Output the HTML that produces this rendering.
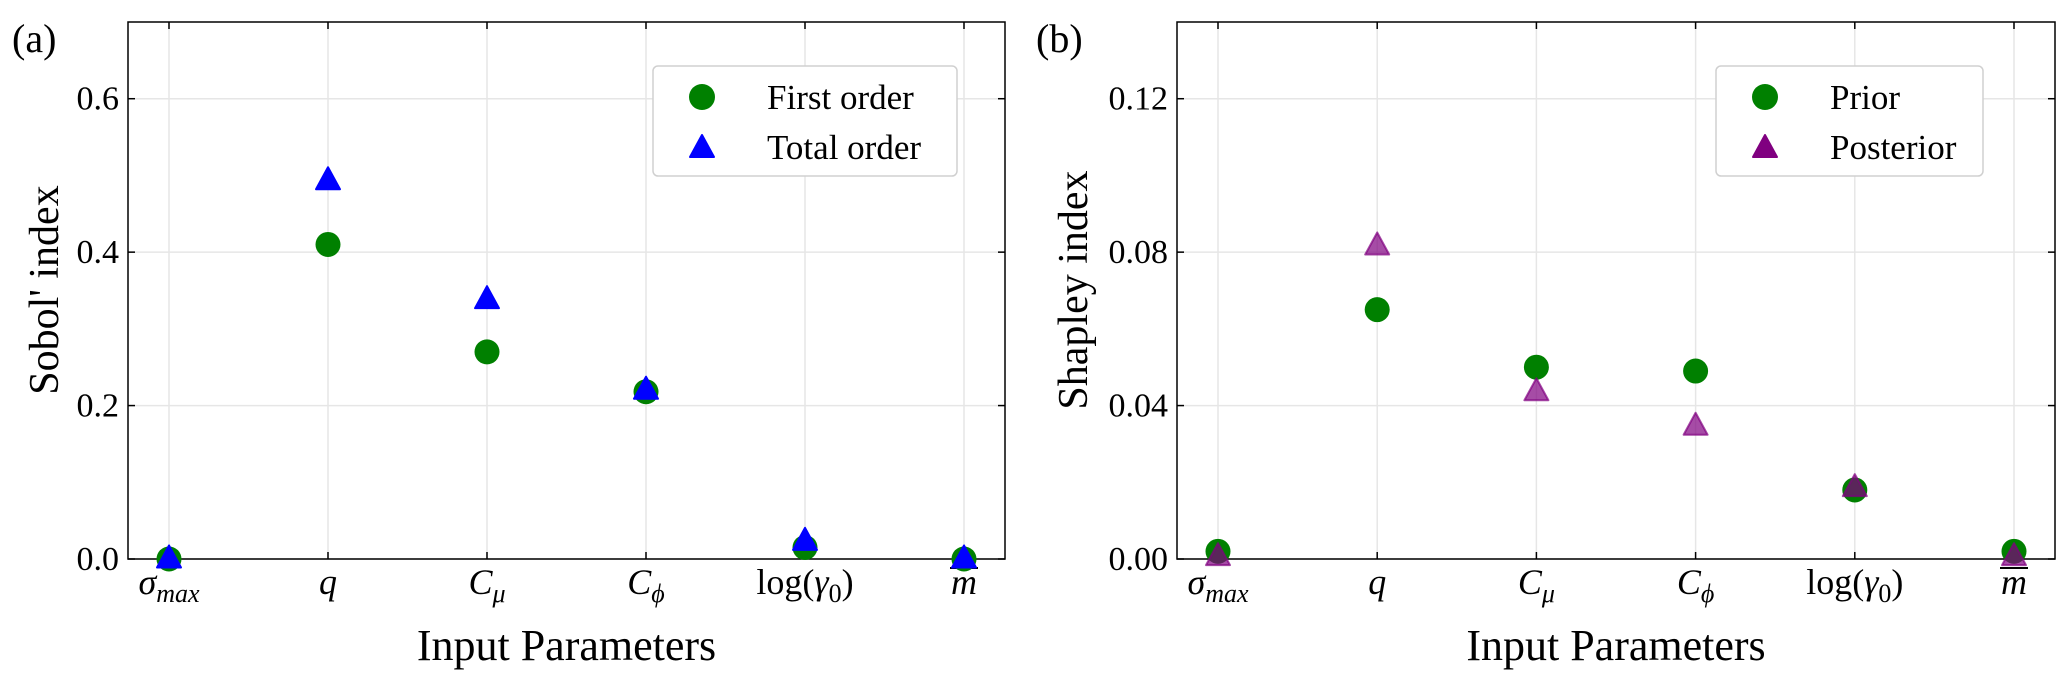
<!DOCTYPE html>
<html><head><meta charset="utf-8"><style>
body{margin:0;background:#fff}
svg text{font-family:"Liberation Serif",serif;fill:#000}
</style></head><body>
<svg id="fig" width="2067" height="685" viewBox="0 0 2067 685" xmlns="http://www.w3.org/2000/svg"></svg>
<script>
const categories=["σ","q","C","C","log(γ)","m"];
const firstOrder=[0,0.41,0.27,0.218,0.015,0];
const totalOrder=[0.002,0.495,0.34,0.222,0.025,0.002];
const prior=[0.002,0.065,0.05,0.049,0.018,0.002];
const posterior=[0.001,0.082,0.044,0.035,0.019,0.001];
const ticksA=[0,0.2,0.4,0.6];
const tickLabelsA=["0.0","0.2","0.4","0.6"];
const ticksB=[0,0.04,0.08,0.12];
const tickLabelsB=["0.00","0.04","0.08","0.12"];
const NS="http://www.w3.org/2000/svg";
const svg=document.getElementById('fig');
function mk(tag,at,parent){const e=document.createElementNS(NS,tag);for(const k in at)e.setAttribute(k,at[k]);(parent||svg).appendChild(e);return e;}
function catLabel(g,x,y,i){
  const t=mk('text',{x:x,y:y,'text-anchor':'middle','font-size':36},g);
  
  
  if(i===0){t.innerHTML='<tspan font-style="italic">σ</tspan><tspan font-style="italic" font-size="26" dy="8">max</tspan>';}
  else if(i===1){t.innerHTML='<tspan font-style="italic">q</tspan>';}
  else if(i===2){t.innerHTML='<tspan font-style="italic">C</tspan><tspan font-style="italic" font-size="26" dy="8">μ</tspan>';}
  else if(i===3){t.innerHTML='<tspan font-style="italic">C</tspan><tspan font-style="italic" font-size="26" dy="8">ϕ</tspan>';}
  else if(i===4){t.innerHTML='log(<tspan font-style="italic">γ</tspan><tspan font-size="26" dy="8">0</tspan><tspan dy="-8">)</tspan>';}
  else {t.innerHTML='<tspan font-style="italic">m</tspan>';mk('line',{x1:x-14,x2:x+14,y1:y-26,y2:y-26,stroke:'#000','stroke-width':2},g);}
}
function panel(o){
  const g=mk('g',{});
  
  
  const L=o.left,R=o.right,T=22,B=559;
  const xs=i=>L+41+i*((R-L-82)/5);
  const ys=v=>B-(v/o.ymax)*(B-T);
  o.ticks.forEach((v,i)=>{
    const y=ys(v);
    const gl=mk('line',{x1:L,x2:R,y1:y,y2:y,stroke:'#e6e6e6','stroke-width':1.5},g);
    
    mk('line',{x1:L,x2:L+7,y1:y,y2:y,stroke:'#000','stroke-width':1.5},g);
    mk('line',{x1:R-7,x2:R,y1:y,y2:y,stroke:'#000','stroke-width':1.5},g);
    const t=mk('text',{x:L-9,y:y+11,'text-anchor':'end','font-size':34},g);
    t.textContent=o.tickLabels[i];
    
  });
  categories.forEach((c,i)=>{
    const x=xs(i);
    const gl=mk('line',{x1:x,x2:x,y1:T,y2:B,stroke:'#e6e6e6','stroke-width':1.5},g);
    
    mk('line',{x1:x,x2:x,y1:B-7,y2:B,stroke:'#000','stroke-width':1.5},g);
    mk('line',{x1:x,x2:x,y1:T,y2:T+7,stroke:'#000','stroke-width':1.5},g);
    catLabel(g,x,594,i);
  });
  const fr=mk('rect',{x:L,y:T,width:R-L,height:B-T,fill:'none',stroke:'#000','stroke-width':1.5},g);
  
  o.s1.forEach((v,i)=>{
    const c=mk('circle',{cx:xs(i),cy:ys(v),r:12.5,fill:'#008000'},g);
    
  });
  o.s2.forEach((v,i)=>{
    const x=xs(i),y=ys(v);
    const p=mk('polygon',{points:`${x-12},${y+10} ${x+12},${y+10} ${x},${y-12}`,fill:o.c2,'fill-opacity':o.a2,'stroke':o.c2,'stroke-opacity':o.a2,'stroke-linejoin':'round','stroke-width':2},g);
    
  });
  const lg=mk('g',{},g);
  
  mk('rect',{x:o.lx,y:66,width:o.lw,height:110,rx:5,fill:'#fff',stroke:'#d0d0d0','stroke-width':1.5},lg);
  mk('circle',{cx:o.lx+49,cy:97,r:13,fill:'#008000'},lg);
  const mx=o.lx+49;
  mk('polygon',{points:`${mx-12},${157} ${mx+12},${157} ${mx},${135}`,fill:o.c2,stroke:o.c2,'stroke-width':2,'stroke-linejoin':'round'},lg);
  const t1=mk('text',{x:o.lx+114,y:109,'font-size':35},lg);t1.textContent=o.l1;
  
  const t2=mk('text',{x:o.lx+114,y:159,'font-size':35},lg);t2.textContent=o.l2;
  
  const yl=mk('text',{x:0,y:0,'text-anchor':'middle','font-size':42,transform:`translate(${o.ylx},290) rotate(-90)`},g);
  yl.textContent=o.ylabel;
  const xl=mk('text',{x:(L+R)/2,y:660,'text-anchor':'middle','font-size':44},g);
  xl.textContent='Input Parameters';
  const pl=mk('text',{x:o.plx,y:52,'font-size':40},g);
  pl.textContent=o.panelLabel;
}
panel({name:'panel-a',left:128,right:1005,ymax:0.7,ticks:ticksA,tickLabels:tickLabelsA,s1:firstOrder,s2:totalOrder,c2:'#0000ff',a2:1,lx:653,lw:304,l1:'First order',l2:'Total order',ylabel:"Sobol' index",ylx:58,plx:12,panelLabel:'(a)'});
panel({name:'panel-b',left:1177,right:2055,ymax:0.14,ticks:ticksB,tickLabels:tickLabelsB,s1:prior,s2:posterior,c2:'#800080',a2:0.7,lx:1716,lw:267,l1:'Prior',l2:'Posterior',ylabel:'Shapley index',ylx:1087,plx:1036,panelLabel:'(b)'});
</script>
</body></html>
